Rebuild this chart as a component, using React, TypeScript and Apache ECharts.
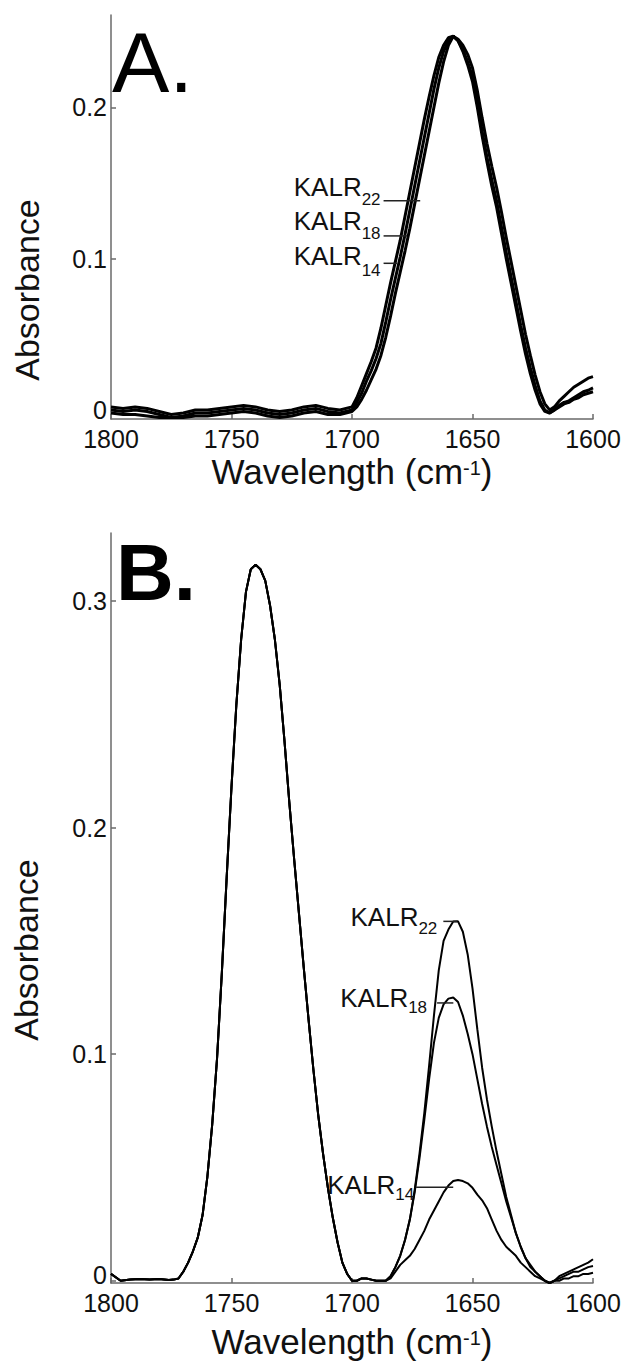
import React, { useEffect, useRef } from "react";
import * as echarts from "echarts";

const FONT = "'Liberation Sans', Arial, Helvetica, sans-serif";

// ---------- Panel A (normalised amide I spectra) ----------
const wnA_base = [1800, 1795, 1790, 1785, 1780, 1775, 1770, 1765, 1760, 1755, 1750, 1745, 1740, 1735, 1730, 1725, 1720, 1715, 1710, 1705];
const kalr22A_base = [0.002, 0.001, 0.002, 0.001, -0.001, -0.003, -0.002, 0.000, 0.000, 0.001, 0.002, 0.003, 0.002, 0.000, -0.001, 0.000, 0.002, 0.003, 0.001, 0.000];
const kalr18A_base = [0.000, -0.001, 0.000, -0.001, -0.003, -0.005, -0.004, -0.002, -0.002, -0.001, 0.000, 0.001, 0.000, -0.002, -0.003, -0.002, 0.000, 0.001, -0.001, -0.002];
const kalr14A_base = [-0.002, -0.003, -0.003, -0.004, -0.005, -0.005, -0.005, -0.004, -0.004, -0.003, -0.002, -0.001, -0.002, -0.004, -0.005, -0.004, -0.002, -0.001, -0.003, -0.003];

const wnA_band = [1700, 1698, 1696, 1694, 1692, 1690, 1688, 1686, 1684, 1682, 1680, 1678, 1676, 1674, 1672, 1670, 1668, 1666, 1664, 1662, 1660, 1658, 1656, 1654, 1652, 1650, 1648, 1646, 1644, 1642, 1640, 1638, 1636, 1634, 1632, 1630, 1628, 1626, 1624, 1622, 1620, 1618, 1616, 1614, 1612, 1610, 1608, 1606, 1604, 1602, 1600];
const kalr22A_band = [0.002, 0.008, 0.016, 0.024, 0.032, 0.041, 0.054, 0.069, 0.084, 0.098, 0.112, 0.128, 0.144, 0.160, 0.176, 0.192, 0.207, 0.221, 0.233, 0.241, 0.246, 0.247, 0.245, 0.241, 0.235, 0.226, 0.211, 0.193, 0.176, 0.161, 0.147, 0.131, 0.114, 0.098, 0.082, 0.066, 0.050, 0.036, 0.023, 0.012, 0.004, 0.000, 0.002, 0.006, 0.009, 0.012, 0.015, 0.017, 0.019, 0.021, 0.022];
const kalr18A_band = [0.000, 0.005, 0.011, 0.019, 0.026, 0.034, 0.044, 0.058, 0.073, 0.087, 0.101, 0.116, 0.132, 0.148, 0.164, 0.180, 0.196, 0.212, 0.226, 0.237, 0.244, 0.247, 0.244, 0.238, 0.230, 0.220, 0.203, 0.184, 0.167, 0.152, 0.138, 0.121, 0.104, 0.088, 0.072, 0.056, 0.041, 0.028, 0.016, 0.006, 0.000, -0.002, 0.000, 0.003, 0.005, 0.006, 0.008, 0.010, 0.012, 0.013, 0.0145];
const kalr14A_band = [-0.001, 0.002, 0.007, 0.013, 0.020, 0.027, 0.036, 0.048, 0.062, 0.077, 0.091, 0.105, 0.120, 0.136, 0.152, 0.168, 0.184, 0.200, 0.216, 0.230, 0.241, 0.247, 0.244, 0.237, 0.228, 0.217, 0.200, 0.181, 0.164, 0.148, 0.134, 0.117, 0.100, 0.084, 0.068, 0.052, 0.037, 0.024, 0.013, 0.004, -0.001, -0.002, 0.000, 0.002, 0.004, 0.005, 0.007, 0.008, 0.010, 0.011, 0.012];

// ---------- Panel B (ester band + amide I) ----------
const wnB_ester = [1800, 1796, 1792, 1788, 1784, 1780, 1776, 1774, 1772, 1770, 1768, 1766, 1764, 1762, 1760, 1758, 1756, 1754, 1752, 1750, 1748, 1746, 1744, 1742, 1740, 1738, 1736, 1734, 1732, 1730, 1728, 1726, 1724, 1722, 1720, 1718, 1716, 1714, 1712, 1710, 1708, 1706, 1704, 1702, 1700, 1698, 1696, 1694, 1692, 1690, 1688];
const esterB = [0.003, 0.000, 0.0005, 0.0008, 0.0005, 0.0008, 0.0003, 0.0005, 0.001, 0.004, 0.008, 0.013, 0.019, 0.029, 0.046, 0.069, 0.098, 0.136, 0.178, 0.218, 0.254, 0.283, 0.304, 0.314, 0.316, 0.314, 0.309, 0.298, 0.283, 0.263, 0.238, 0.211, 0.186, 0.162, 0.138, 0.115, 0.093, 0.073, 0.056, 0.041, 0.028, 0.017, 0.008, 0.003, 0.000, 0.000, 0.001, 0.001, 0.0005, 0.000, 0.000];

const wnB_amide = [1686, 1684, 1682, 1680, 1678, 1676, 1674, 1672, 1670, 1668, 1666, 1664, 1662, 1660, 1658, 1656, 1654, 1652, 1650, 1648, 1646, 1644, 1642, 1640, 1638, 1636, 1634, 1632, 1630, 1628, 1626, 1624, 1622, 1620, 1618, 1616, 1614, 1612, 1610, 1608, 1606, 1604, 1602, 1600];
const kalr22B = [0.000, 0.002, 0.006, 0.011, 0.018, 0.027, 0.040, 0.056, 0.074, 0.095, 0.117, 0.137, 0.150, 0.155, 0.1585, 0.1586, 0.154, 0.144, 0.129, 0.111, 0.094, 0.080, 0.068, 0.057, 0.047, 0.037, 0.029, 0.021, 0.015, 0.010, 0.007, 0.004, 0.002, 0.000, -0.001, 0.000, 0.002, 0.003, 0.004, 0.005, 0.006, 0.007, 0.008, 0.0095];
const kalr18B = [0.000, 0.002, 0.006, 0.011, 0.018, 0.027, 0.039, 0.054, 0.071, 0.089, 0.105, 0.116, 0.122, 0.1245, 0.125, 0.123, 0.117, 0.109, 0.100, 0.089, 0.078, 0.068, 0.059, 0.051, 0.043, 0.035, 0.028, 0.021, 0.015, 0.010, 0.006, 0.004, 0.002, 0.000, -0.001, 0.000, 0.001, 0.002, 0.003, 0.004, 0.004, 0.005, 0.006, 0.0065];
const kalr14B = [0.000, 0.001, 0.004, 0.007, 0.009, 0.011, 0.014, 0.018, 0.022, 0.027, 0.031, 0.035, 0.039, 0.042, 0.044, 0.0445, 0.044, 0.043, 0.041, 0.038, 0.0355, 0.032, 0.027, 0.022, 0.018, 0.015, 0.013, 0.011, 0.008, 0.006, 0.004, 0.002, 0.001, 0.000, -0.001, 0.000, 0.000, 0.001, 0.001, 0.002, 0.002, 0.003, 0.003, 0.0035];

// ---------- ticks ----------
const xTicks = [1800, 1750, 1700, 1650, 1600];
const yTicksA = [0, 0.1, 0.2];
const yTicksB = [0, 0.1, 0.2, 0.3];

// ---------- annotations (data coords of leader lines) ----------
const labelsA = [
  { sub: "22", from: [1686.9, 0.1383], to: [1671.7, 0.1383], gap: 3, mainDy: -5, subDy: 4.3 },
  { sub: "18", from: [1686.9, 0.115], to: [1677.2, 0.115], gap: 3, mainDy: -6, subDy: 4 },
  { sub: "14", from: [1686.9, 0.0969], to: [1681.3, 0.0969], gap: 3, mainDy: 1.7, subDy: 12.7 },
];
const labelsB = [
  { sub: "22", from: [1662.1, 0.1586], to: [1656.4, 0.1586], gap: 6, mainDy: 4.4, subDy: 12.7 },
  { sub: "18", from: [1664.7, 0.1226], to: [1657.95, 0.1226], gap: 10, mainDy: 4.3, subDy: 11 },
  { sub: "14", from: [1673.4, 0.0413], to: [1658, 0.0413], gap: 2, mainDy: 6.7, subDy: 13.4 },
];

function pairs(xs: number[], ys: number[]) {
  return xs.map((x, i) => [x, ys[i]]);
}

function lineSeries(name: string, data: number[][], idx: number, width: number) {
  return {
    type: "line",
    name,
    xAxisIndex: idx,
    yAxisIndex: idx,
    data,
    symbol: "none",
    silent: true,
    lineStyle: { color: "#000", width },
    emphasis: { disabled: true },
    z: 3,
  };
}

const axisColor = "#6a6a6a";

function xAxis(idx: number) {
  return {
    type: "value",
    gridIndex: idx,
    min: 1600,
    max: 1800,
    interval: 50,
    inverse: true,
    axisLine: { show: true, onZero: false, lineStyle: { color: axisColor, width: 1.5 } },
    axisTick: { show: true, inside: true, length: 5, customValues: xTicks, lineStyle: { color: axisColor, width: 1.5 } },
    axisLabel: {
      customValues: xTicks,
      fontSize: 25,
      fontFamily: FONT,
      color: "#111",
      margin: 7,
      showMinLabel: true,
      showMaxLabel: true,
      formatter: (v: number) => String(v),
    },
    splitLine: { show: false },
  };
}

function yAxis(idx: number, min: number, max: number, ticks: number[], raiseZero: boolean) {
  return {
    type: "value",
    gridIndex: idx,
    min,
    max,
    axisLine: { show: true, onZero: false, lineStyle: { color: axisColor, width: 1.5 } },
    axisTick: { show: true, inside: true, length: 5, customValues: ticks, lineStyle: { color: axisColor, width: 1.5 } },
    axisLabel: {
      customValues: ticks,
      fontSize: 25,
      fontFamily: FONT,
      color: "#111",
      margin: 4,
      formatter: (v: number) => (v === 0 ? (raiseZero ? "{z|0}" : "0") : v.toFixed(1)),
      rich: { z: { fontSize: 25, fontFamily: FONT, color: "#111", padding: [0, 0, 12, 0] } },
    },
    splitLine: { show: false },
  };
}

export default function App() {
  const ref = useRef<HTMLDivElement>(null);

  useEffect(() => {
    document.body.style.margin = "0";
    const chart = echarts.init(ref.current!, undefined, { renderer: "svg" });

    const option: any = {
      animation: false,
      backgroundColor: "#fff",
      textStyle: { fontFamily: FONT },
      grid: [
        { left: 111, top: 15, width: 482, height: 404 },
        { left: 111, top: 533, width: 482, height: 750 },
      ],
      xAxis: [xAxis(0), xAxis(1)],
      yAxis: [yAxis(0, -0.006, 0.261, yTicksA, false), yAxis(1, -0.001, 0.33, yTicksB, true)],
      series: [
        lineSeries("KALR22", pairs(wnA_base.concat(wnA_band), kalr22A_base.concat(kalr22A_band)), 0, 3),
        lineSeries("KALR18", pairs(wnA_base.concat(wnA_band), kalr18A_base.concat(kalr18A_band)), 0, 3),
        lineSeries("KALR14", pairs(wnA_base.concat(wnA_band), kalr14A_base.concat(kalr14A_band)), 0, 3),
        lineSeries("KALR22", pairs(wnB_ester.concat(wnB_amide), esterB.concat(kalr22B)), 1, 2),
        lineSeries("KALR18", pairs(wnB_ester.concat(wnB_amide), esterB.concat(kalr18B)), 1, 2),
        lineSeries("KALR14", pairs(wnB_ester.concat(wnB_amide), esterB.concat(kalr14B)), 1, 2),
      ],
    };
    chart.setOption(option);

    const graphics: any[] = [];
    const addLabels = (labels: any[], gridIndex: number) => {
      labels.forEach((l) => {
        const p1 = chart.convertToPixel({ gridIndex }, l.from) as number[];
        const p2 = chart.convertToPixel({ gridIndex }, l.to) as number[];
        graphics.push({
          type: "line",
          shape: { x1: p1[0], y1: p1[1], x2: p2[0], y2: p2[1] },
          style: { stroke: "#222", lineWidth: 1.5 },
          z: 10,
        });
        const subW = l.sub.length * 0.556 * 17;
        const xEnd = p1[0] - l.gap;
        graphics.push({
          type: "text",
          x: xEnd,
          y: p1[1] + l.subDy - 0.35 * 17,
          style: { text: l.sub, fontSize: 17, fontFamily: FONT, fill: "#111", align: "right", verticalAlign: "middle", textAlign: "right", textVerticalAlign: "middle" },
          z: 10,
        });
        graphics.push({
          type: "text",
          x: xEnd - subW,
          y: p1[1] + l.mainDy - 0.35 * 26,
          style: { text: "KALR", fontSize: 26, fontFamily: FONT, fill: "#111", align: "right", verticalAlign: "middle", textAlign: "right", textVerticalAlign: "middle" },
          z: 10,
        });
      });
    };
    addLabels(labelsA, 0);
    addLabels(labelsB, 1);

    const title = (cx: number, baseline: number) => ({
      type: "text",
      x: cx,
      y: baseline - 0.3465 * 35,
      style: {
        text: "{m|Wavelength (cm}{s|-1}{m|)}",
        align: "center",
        verticalAlign: "middle",
        textAlign: "center",
        textVerticalAlign: "middle",
        rich: {
          m: { fontSize: 35, fontFamily: FONT, fill: "#111", lineHeight: 36 },
          s: { fontSize: 20, fontFamily: FONT, fill: "#111", padding: [0, 0, 8, 0] },
        },
      },
      z: 10,
    });
    const yTitle = (cx: number, cy: number) => ({
      type: "text",
      x: cx,
      y: cy,
      rotation: Math.PI / 2,
      style: { text: "Absorbance", fontSize: 34, fontFamily: FONT, fill: "#111", align: "center", verticalAlign: "middle", textAlign: "center", textVerticalAlign: "middle" },
      z: 10,
    });
    graphics.push(title(352, 484), title(352, 1354), yTitle(27, 290), yTitle(26, 950));
    graphics.push({
      type: "text",
      x: 112,
      y: 92 - 0.3465 * 86,
      style: { text: "A.", fontSize: 86, fontFamily: FONT, fill: "#000", align: "left", verticalAlign: "middle", textAlign: "left", textVerticalAlign: "middle" },
      z: 10,
    });
    graphics.push({
      type: "text",
      x: 116,
      y: 600 - 0.3465 * 80,
      style: { text: "B.", fontSize: 80, fontWeight: "bold", fontFamily: FONT, fill: "#000", align: "left", verticalAlign: "middle", textAlign: "left", textVerticalAlign: "middle" },
      z: 10,
    });

    chart.setOption({ graphic: graphics });

    return () => chart.dispose();
  }, []);

  return <div ref={ref} style={{ width: 624, height: 1361 }} />;
}
